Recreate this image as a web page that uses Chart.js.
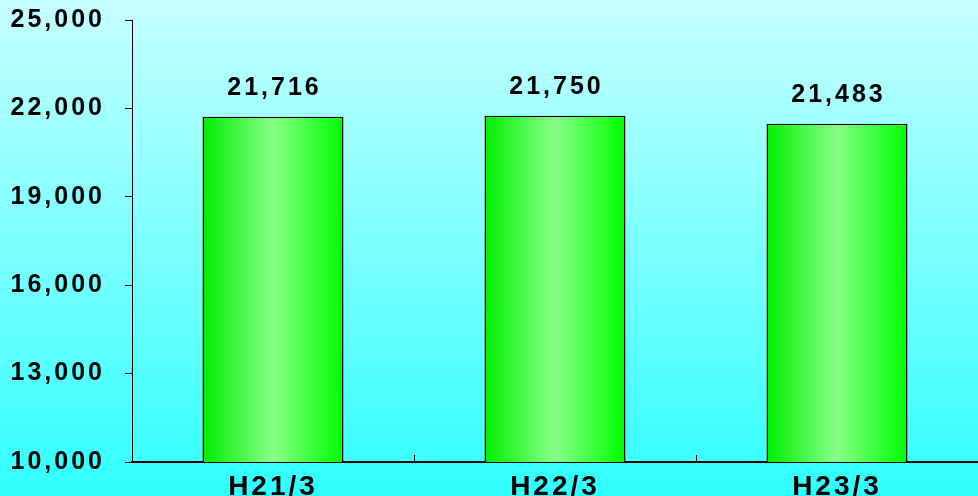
<!DOCTYPE html>
<html>
<head>
<meta charset="utf-8">
<script src="https://cdn.jsdelivr.net/npm/chart.js@4"></script>
<style>
  html, body { margin: 0; padding: 0; }
  #wrap { width: 978px; height: 496px; }
</style>
</head>
<body>
<div id="wrap"><canvas id="chart"></canvas></div>
<script>
// データ
const categories = ['H21/3', 'H22/3', 'H23/3'];
const values = [21716, 21750, 21483];
const yTicks = [10000, 13000, 16000, 19000, 22000, 25000];

const fontFamily = '"Liberation Sans", Arial, sans-serif';

// 背景のグラデーション
const bgPlugin = {
  id: 'bg',
  beforeDraw(chart) {
    const ctx = chart.ctx;
    const g = ctx.createLinearGradient(0, 0, 0, chart.height);
    g.addColorStop(0, '#c6ffff');
    g.addColorStop(1, '#30ffff');
    ctx.save();
    ctx.fillStyle = g;
    ctx.fillRect(0, 0, chart.width, chart.height);
    ctx.restore();
    ctx.letterSpacing = '3px';
  }
};

// x軸の内向き目盛り
const xTickPlugin = {
  id: 'xticks',
  afterDraw(chart) {
    const x = chart.scales.x;
    const ctx = chart.ctx;
    const bottom = chart.chartArea.bottom;
    ctx.save();
    ctx.strokeStyle = '#000';
    ctx.lineWidth = 1;
    for (let i = 1; i < categories.length; i++) {
      const px = Math.round(x.getPixelForValue(i - 0.5)) + 0.5;
      ctx.beginPath();
      ctx.moveTo(px, bottom);
      ctx.lineTo(px, bottom - 7);
      ctx.stroke();
    }
    ctx.restore();
  }
};

// 値ラベル
const labelPlugin = {
  id: 'valueLabels',
  afterDatasetsDraw(chart) {
    const ctx = chart.ctx;
    const meta = chart.getDatasetMeta(0);
    ctx.save();
    ctx.letterSpacing = '3px';
    ctx.fillStyle = '#000';
    ctx.font = 'bold 25px ' + fontFamily;
    ctx.textAlign = 'center';
    ctx.textBaseline = 'alphabetic';
    meta.data.forEach((bar, i) => {
      ctx.fillText(values[i].toLocaleString('en-US'), bar.x + 1.5, bar.y - 22);
    });
    ctx.restore();
  }
};

function barGradient(context) {
  const chart = context.chart;
  const x = chart.scales.x;
  if (!chart.chartArea || !x) return '#44ff44';
  const cx = x.getPixelForValue(context.dataIndex);
  const half = (x.width / categories.length) * 0.25;
  const g = chart.ctx.createLinearGradient(cx - half, 0, cx + half, 0);
  g.addColorStop(0, '#00ee00');
  g.addColorStop(0.5, '#88ff88');
  g.addColorStop(1, '#00ff00');
  return g;
}

new Chart(document.getElementById('chart'), {
  type: 'bar',
  data: {
    labels: categories,
    datasets: [{
      data: values,
      backgroundColor: barGradient,
      borderColor: '#000',
      borderWidth: 1.5,
      categoryPercentage: 1.0,
      barPercentage: 0.5
    }]
  },
  options: {
    responsive: true,
    maintainAspectRatio: false,
    animation: false,
    layout: { padding: { top: 20, left: 0, right: 0, bottom: 0 } },
    plugins: {
      legend: { display: false },
      tooltip: { enabled: false }
    },
    scales: {
      x: {
        grid: { display: false },
        border: { color: '#000', width: 2 },
        ticks: {
          color: '#000',
          padding: 0,
          font: { family: fontFamily, size: 28, weight: 'bold' }
        },
        afterFit(scale) {
          scale.height = 34;
          scale.paddingLeft = 0;
          scale.paddingRight = 0;
        }
      },
      y: {
        min: 10000,
        max: 25000,
        afterBuildTicks(scale) {
          scale.ticks = yTicks.map(v => ({ value: v }));
        },
        grid: {
          drawOnChartArea: false,
          tickLength: 7,
          color: '#000'
        },
        border: { color: '#000', width: 1 },
        ticks: {
          color: '#000',
          padding: 20,
          font: { family: fontFamily, size: 25, weight: 'bold' },
          callback: v => v.toLocaleString('en-US')
        },
        afterFit(scale) {
          scale.width = 132;
          scale.paddingTop = 0;
          scale.paddingBottom = 0;
        }
      }
    }
  },
  plugins: [bgPlugin, xTickPlugin, labelPlugin]
});
</script>
</body>
</html>
